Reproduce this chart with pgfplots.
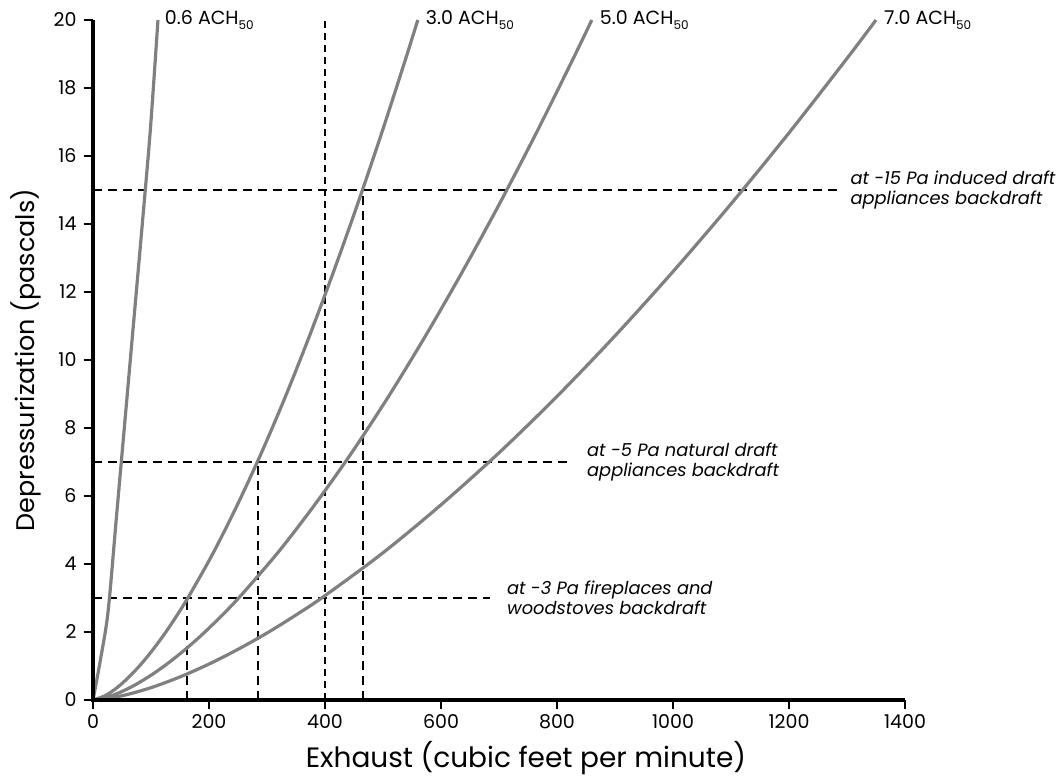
\documentclass[border=0pt]{standalone}
\usepackage{pgfplots}
\pgfplotsset{compat=1.18}
\usepackage{fontspec}
\setmainfont{Poppins}
\definecolor{curvegray}{RGB}{128,128,128}
\newcommand{\ach}[1]{#1 ACH\raisebox{-0.45ex}{\fontsize{12}{12}\selectfont 50}}

\begin{document}
\begin{tikzpicture}
\begin{axis}[
    name=ax,
    scale only axis,
    width=812pt, height=680pt,
    xmin=0, xmax=1400,
    ymin=0, ymax=20,
    xtick={0,200,...,1400},
    ytick={0,2,...,20},
    axis x line*=bottom,
    axis y line*=left,
    axis line style={black, line width=3.5pt},
    tick style={black, line width=1.8pt},
    major tick length=9pt,
    tick align=outside,
    ticklabel style={font=\fontsize{19}{19}\selectfont},
    yticklabel style={xshift=-4pt},
    xticklabel style={yshift=-2pt},
    /pgf/number format/assume math mode=true,
    /pgf/number format/1000 sep={},
    xlabel={Exhaust (cubic feet per minute)},
    ylabel={Depressurization (pascals)},
    xlabel style={font=\fontsize{28}{28}\selectfont, yshift=-6pt, xshift=27pt},
    ylabel style={font=\fontsize{25.5}{25.5}\selectfont, yshift=6pt},
    clip=false,
]

% reference lines
\addplot[black, line width=1.6pt, dash pattern=on 9pt off 6pt] coordinates {(0,15)(1290,15)};
\addplot[black, line width=1.6pt, dash pattern=on 9pt off 6pt] coordinates {(0,7)(826,7)};
\addplot[black, line width=1.6pt, dash pattern=on 9pt off 6pt] coordinates {(0,3)(684,3)};
\addplot[black, line width=1.6pt, dash pattern=on 9pt off 6pt] coordinates {(162,0)(162,3)};
\addplot[black, line width=1.6pt, dash pattern=on 9pt off 6pt] coordinates {(284,0)(284,7)};
\addplot[black, line width=1.6pt, dash pattern=on 9pt off 6pt] coordinates {(465,0)(465,15)};
\addplot[black, line width=1.1pt, dash pattern=on 7pt off 5pt] coordinates {(400,0)(400,20)};

% 0.6 ACH50
\addplot[curvegray, line width=3.2pt, smooth] coordinates {
    (0,0)(13,1.2)(26,2.6)(40,5.3)(55,8.2)(70,11.1)(85,14.0)(99,16.8)(112,20)
};
% 3.0 ACH50
\addplot[curvegray, line width=3.2pt, smooth] coordinates {
    (0,0)(20.7,0.125)(41.5,0.363)(62.2,0.679)(83.0,1.057)(103.7,1.49)(124.4,1.97)
    (145.2,2.50)(165.9,3.07)(207.4,4.33)(248.9,5.74)(290.4,7.27)(331.9,8.93)
    (373.3,10.71)(414.8,12.60)(456.3,14.59)(497.8,16.68)(539.3,18.87)(560,20)
};
% 5.0 ACH50
\addplot[curvegray, line width=3.2pt, smooth] coordinates {
    (0,0)(31.9,0.125)(63.7,0.363)(95.6,0.679)(127.4,1.057)(159.3,1.49)(191.1,1.97)
    (223.0,2.50)(254.8,3.07)(318.5,4.33)(382.2,5.74)(445.9,7.27)(509.6,8.93)
    (573.3,10.71)(637.0,12.60)(700.7,14.59)(764.4,16.68)(828.1,18.87)(860,20)
};
% 7.0 ACH50
\addplot[curvegray, line width=3.2pt, smooth] coordinates {
    (0,0)(50,0.125)(100,0.363)(150,0.679)(200,1.057)(250,1.49)(300,1.97)
    (350,2.50)(400,3.07)(500,4.33)(600,5.74)(700,7.27)(800,8.93)
    (900,10.71)(1000,12.60)(1100,14.59)(1200,16.68)(1300,18.87)(1350,20)
};

% heavy axis frame and outside ticks
\addplot[black, line width=1.8pt, ycomb] coordinates {
    (0,-0.27)(200,-0.27)(400,-0.27)(600,-0.27)(800,-0.27)(1000,-0.27)(1200,-0.27)(1400,-0.27)
};
\addplot[black, line width=1.8pt, xcomb] coordinates {
    (-15.5,0)(-15.5,2)(-15.5,4)(-15.5,6)(-15.5,8)(-15.5,10)
    (-15.5,12)(-15.5,14)(-15.5,16)(-15.5,18)(-15.5,20)
};
\addplot[black, line width=3.5pt] coordinates {(0,20)(0,0)(1400,0)};

\begin{scope}[every node/.style={anchor=west, font=\fontsize{19}{19}\selectfont}]
\node at (axis cs:118,20) {\ach{0.6}};
\node at (axis cs:568,20) {\ach{3.0}};
\node at (axis cs:868,20) {\ach{5.0}};
\node at (axis cs:1358,20) {\ach{7.0}};
\end{scope}

\begin{scope}[every node/.style={anchor=west, align=left, font=\itshape\fontsize{17.8}{19.5}\selectfont}]
\node at (axis cs:1300,15) {at -15 Pa induced draft\\appliances backdraft};
\node at (axis cs:846,7) {at -5 Pa natural draft\\appliances backdraft};
\node at (axis cs:708,3) {at -3 Pa fireplaces and\\woodstoves backdraft};
\end{scope}

\end{axis}
\pgfresetboundingbox
\path[use as bounding box] ([xshift=-93pt,yshift=-82pt]ax.south west) rectangle ([xshift=968pt,yshift=700pt]ax.south west);
\end{tikzpicture}
\end{document}
